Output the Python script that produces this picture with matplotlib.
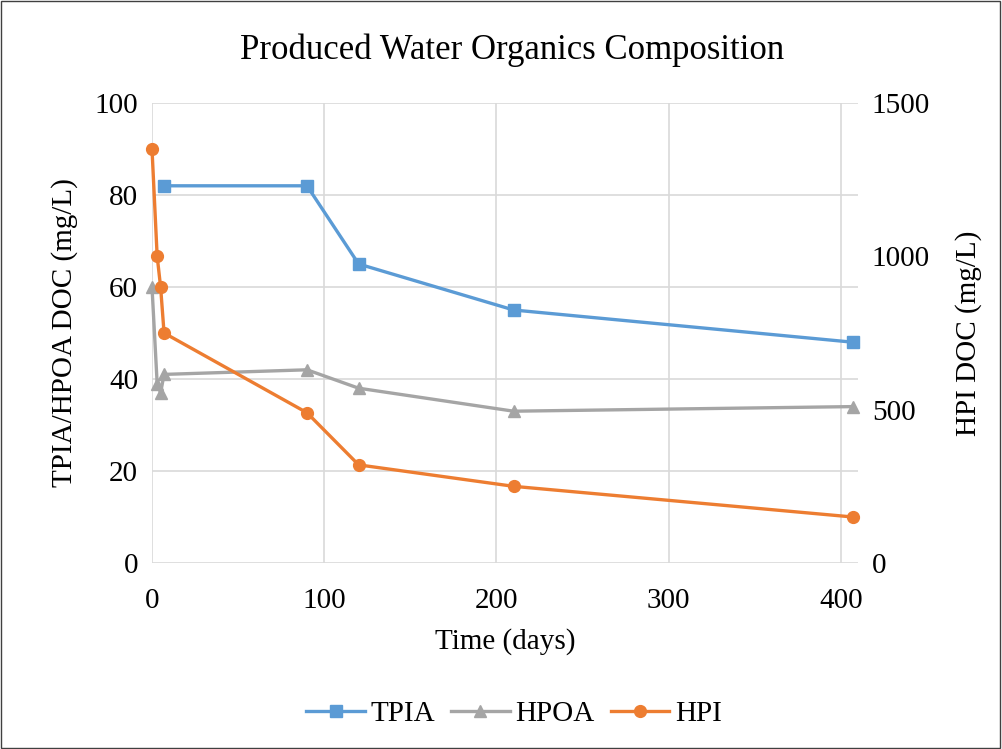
import matplotlib.pyplot as plt
from matplotlib.lines import Line2D
from matplotlib.patches import Rectangle

plt.rcParams["font.family"] = ["Liberation Serif", "DejaVu Serif"]

# data
tpia_days = [7, 90, 120, 210, 407]
tpia_doc = [82, 82, 65, 55, 48]

hpoa_days = [0, 3, 5, 7, 90, 120, 210, 407]
hpoa_doc = [60, 39, 37, 41, 42, 38, 33, 34]

hpi_days = [0, 3, 5, 7, 90, 120, 210, 407]
hpi_doc = [1350, 1000, 900, 750, 490, 320, 250, 150]

x_ticks = [0, 100, 200, 300, 400]
left_ticks = [0, 20, 40, 60, 80, 100]
right_ticks = [0, 500, 1000, 1500]

BLUE = "#5B9BD5"
GRAY = "#A5A5A5"
ORANGE = "#ED7D31"
FS = 21

fig = plt.figure(figsize=(10.02, 7.49), dpi=100)
fig.patches.append(Rectangle((0.001, 0.001), 0.997, 0.997, transform=fig.transFigure,
                             fill=False, edgecolor="#404040", linewidth=1))

ax = fig.add_axes([152 / 1002, 1 - 563 / 749, (858 - 152) / 1002, (563 - 103) / 749])
ax2 = ax.twinx()

ax.plot(tpia_days, tpia_doc, color=BLUE, lw=2.4, marker="s", ms=8, clip_on=False, zorder=3)
ax.plot(hpoa_days, hpoa_doc, color=GRAY, lw=2.4, marker="^", ms=8, clip_on=False, zorder=3)
ax2.plot(hpi_days, hpi_doc, color=ORANGE, lw=2.4, marker="o", ms=8.5, clip_on=False, zorder=3)

ax.set_xlim(0, 410)
ax.set_ylim(0, 100)
ax2.set_ylim(0, 1500)
ax.set_xticks(x_ticks)
ax.set_yticks(left_ticks)
ax2.set_yticks(right_ticks)

ax.grid(True, color="#D9D9D9", lw=1.2)
ax.set_axisbelow(True)
for a in (ax, ax2):
    for s in a.spines.values():
        s.set_visible(False)
    a.tick_params(length=0, labelsize=FS, pad=10)
ax.tick_params(axis="x", pad=18)

ax.set_xlabel("Time (days)", fontsize=FS, labelpad=10)
ax.set_ylabel("TPIA/HPOA DOC (mg/L)", fontsize=FS, labelpad=12)
ax2.set_ylabel("HPI DOC (mg/L)", fontsize=FS, labelpad=18)

fig.text(0.511, 1 - 50 / 749, "Produced Water Organics Composition", ha="center", va="center",
         fontsize=25)

handles = [
    Line2D([], [], color=BLUE, lw=2.4, marker="s", ms=8),
    Line2D([], [], color=GRAY, lw=2.4, marker="^", ms=8),
    Line2D([], [], color=ORANGE, lw=2.4, marker="o", ms=8.5),
]
fig.legend(handles, ["TPIA", "HPOA", "HPI"], loc="center", bbox_to_anchor=(0.513, 1 - 714 / 749),
           ncol=3, frameon=False, fontsize=FS, handlelength=2.0, columnspacing=0.55,
           handletextpad=0.2)

fig.savefig("out.png", dpi=100)
